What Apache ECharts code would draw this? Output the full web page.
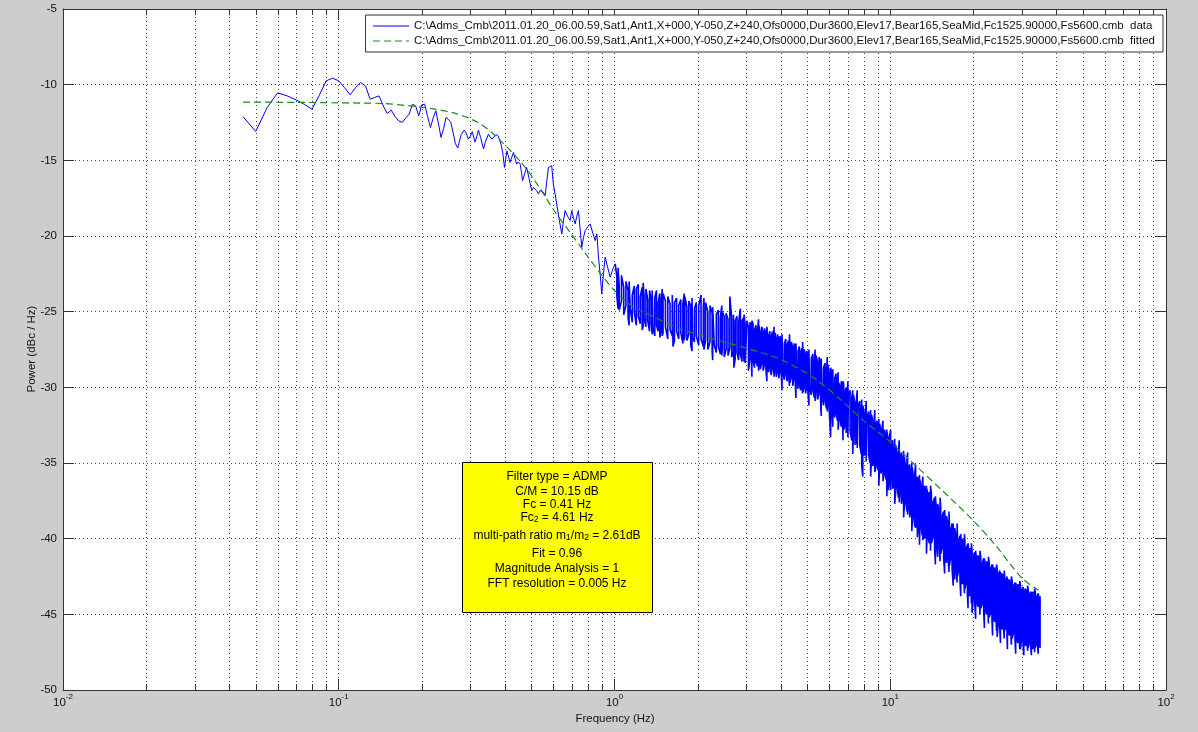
<!DOCTYPE html>
<html>
<head>
<meta charset="utf-8">
<script src="https://cdn.jsdelivr.net/npm/echarts@6/dist/echarts.min.js"></script>
<style>
html,body{margin:0;padding:0;background:#cdcdcd;}
#chart{width:1198px;height:732px;}
</style>
</head>
<body>
<div id="chart"></div>
<script>
// ---------------- data ----------------
const seriesNames = [
  'C:\\Adms_Cmb\\2011.01.20_06.00.59,Sat1,Ant1,X+000,Y-050,Z+240,Ofs0000,Dur3600,Elev17,Bear165,SeaMid,Fc1525.90000,Fs5600.cmb  data',
  'C:\\Adms_Cmb\\2011.01.20_06.00.59,Sat1,Ant1,X+000,Y-050,Z+240,Ofs0000,Dur3600,Elev17,Bear165,SeaMid,Fc1525.90000,Fs5600.cmb  fitted'
];
const xLabel = 'Frequency (Hz)';
const yLabel = 'Power (dBc / Hz)';
const xDecades = [0.01, 0.1, 1, 10, 100];
const minorMultipliers = [2, 3, 4, 5, 6, 7, 8, 9];
const yTicks = [-50, -45, -40, -35, -30, -25, -20, -15, -10, -5];
const infoLines = [
  'Filter type = ADMP',
  'C/M = 10.15 dB',
  'Fc = 0.41 Hz',
  'Fc{sub|2} = 4.61 Hz',
  'multi-path ratio m{sub|1}/m{sub|2} = 2.61dB',
  'Fit = 0.96',
  'Magnitude Analysis = 1',
  'FFT resolution = 0.005 Hz'
];

// measured spectrum, low-frequency part [frequency Hz, power dBc/Hz]
const measuredLow = [
[0.045,-12.12],[0.05,-13.09],[0.055,-11.51],[0.06,-10.54],[0.065,-10.74],[0.07,-11.0],[0.075,-11.3],[0.08,-11.62],
[0.085,-10.7],[0.09,-9.75],[0.095,-9.57],[0.1,-9.75],[0.105,-10.2],[0.11,-10.67],[0.115,-10.2],[0.12,-9.86],
[0.125,-10.08],[0.13,-10.96],[0.135,-10.85],[0.14,-10.74],[0.145,-11.4],[0.15,-11.91],[0.155,-11.68],[0.16,-12.1],
[0.165,-12.4],[0.17,-12.5],[0.175,-12.2],[0.18,-11.95],[0.185,-11.29],[0.19,-11.4],[0.195,-12.06],[0.2,-11.33],
[0.205,-11.29],[0.21,-12.1],[0.215,-12.83],[0.22,-12.2],[0.225,-11.73],[0.23,-12.6],[0.235,-13.49],[0.24,-12.9],
[0.245,-12.17],[0.25,-12.3],[0.255,-12.5],[0.26,-13.2],[0.265,-13.9],[0.27,-14.19],
[0.278,-13.3],[0.285,-13.0],[0.29,-13.2],[0.295,-13.6],[0.3,-13.4],[0.305,-13.1],[0.312,-13.8],[0.317,-13.4],
[0.321,-13.0],[0.327,-13.5],[0.335,-14.25],[0.34,-13.8],[0.349,-13.27],[0.359,-13.6],[0.365,-13.5],[0.372,-13.3],
[0.379,-13.4],[0.384,-13.7],[0.389,-14.04],[0.394,-14.6],[0.399,-15.47],[0.404,-14.8],[0.407,-14.37],[0.412,-14.7],
[0.418,-15.14],[0.424,-14.8],[0.43,-14.48],[0.436,-14.9],[0.442,-15.25],[0.448,-15.1],[0.455,-15.25],[0.46,-15.8],
[0.464,-16.35],[0.472,-15.9],[0.48,-15.47],[0.49,-16.2],[0.501,-17.0],[0.508,-16.8],[0.515,-16.68],[0.522,-17.0],
[0.53,-17.22],[0.537,-17.0],[0.545,-16.9],[0.552,-17.1],[0.56,-17.34],[0.568,-16.4],[0.576,-15.47],[0.584,-15.6],
[0.592,-15.36],[0.6,-16.56],[0.61,-17.3],[0.617,-17.88],[0.63,-18.9],[0.644,-19.86],[0.653,-19.0],[0.662,-18.32],
[0.676,-18.7],[0.69,-18.98],[0.7,-18.32],[0.71,-18.8],[0.72,-19.2],[0.73,-18.7],[0.74,-18.32],[0.75,-19.5],
[0.761,-20.75],[0.772,-20.1],[0.783,-19.64],[0.8,-19.4],[0.816,-19.2],[0.834,-19.8],[0.851,-20.3],[0.863,-19.86],
[0.875,-21.4],[0.888,-22.6],[0.899,-23.82],[0.912,-22.5],[0.925,-21.4],[0.945,-22.1],[0.965,-22.72],[0.985,-22.2],
[1.006,-21.84]
];

// measured spectrum, dense part: [frequency Hz, local high, local low] (dBc/Hz)
const measuredBand = [
[1.02,-22.7,-24.0],[1.04,-23.3,-24.9],[1.06,-22.6,-24.3],[1.08,-23.4,-25.2],[1.10,-23.0,-24.6],[1.12,-23.6,-25.4],
[1.14,-23.1,-24.8],[1.16,-23.9,-25.7],[1.18,-23.3,-25.0],[1.20,-23.5,-25.9],[1.22,-23.2,-25.3],[1.24,-24.0,-25.8],
[1.26,-23.4,-26.2],[1.28,-23.9,-25.4],[1.30,-23.5,-26.0],[1.32,-24.2,-25.6],[1.34,-23.6,-26.3],[1.36,-24.3,-25.8],
[1.38,-23.7,-26.1],[1.40,-24.1,-26.6],[1.42,-23.6,-25.9],[1.44,-24.4,-26.3],[1.46,-23.8,-26.7],[1.48,-24.2,-26.0],
[1.50,-23.8,-26.4],[1.53,-24.3,-26.0],[1.56,-24.0,-26.8],[1.59,-24.5,-26.2],[1.62,-23.9,-26.6],[1.65,-24.4,-26.9],
[1.68,-24.1,-26.3],[1.71,-24.6,-26.8],[1.74,-24.2,-26.4],[1.77,-24.5,-27.1],[1.80,-24.0,-26.6],[1.83,-24.7,-26.9],
[1.86,-24.3,-26.5],[1.89,-24.6,-27.2],[1.92,-24.2,-26.7],[1.95,-24.8,-27.0],[1.98,-24.4,-26.6],
[2.02,-24.6,-27.2],[2.06,-23.9,-26.8],[2.10,-24.7,-27.3],[2.14,-24.4,-26.9],[2.18,-25.0,-27.5],[2.22,-24.6,-27.0],
[2.26,-25.1,-27.6],[2.30,-24.8,-27.2],[2.34,-25.2,-27.7],[2.38,-24.9,-27.3],[2.42,-25.4,-27.8],[2.46,-25.0,-27.4],
[2.50,-25.3,-28.0],[2.54,-25.1,-27.5],[2.58,-25.5,-27.9],[2.62,-24.0,-27.4],[2.66,-25.4,-28.0],[2.70,-25.2,-27.6],
[2.74,-25.6,-28.1],[2.78,-25.3,-27.7],[2.82,-25.7,-28.2],[2.86,-24.8,-27.8],[2.90,-25.6,-28.3],[2.94,-25.4,-27.9],
[2.98,-25.9,-28.4],
[3.02,-25.6,-28.3],[3.06,-26.0,-28.9],[3.10,-25.7,-28.1],[3.14,-26.1,-28.5],[3.18,-25.8,-28.2],[3.22,-26.2,-28.7],
[3.26,-25.9,-28.3],[3.30,-26.3,-28.6],[3.34,-25.9,-28.2],[3.38,-26.4,-28.8],[3.42,-26.0,-28.4],[3.46,-26.4,-28.9],
[3.50,-26.1,-28.5],[3.54,-26.5,-28.8],[3.58,-26.2,-28.4],[3.62,-26.6,-29.0],[3.66,-26.3,-28.6],[3.70,-26.7,-29.2],
[3.74,-26.3,-28.7],[3.78,-26.8,-29.1],[3.82,-26.4,-28.8],[3.86,-26.9,-29.3],[3.90,-26.5,-28.9],[3.94,-26.9,-29.4],
[3.98,-26.6,-29.0],
[4.03,-26.9,-29.3],[4.08,-26.6,-29.0],[4.13,-27.1,-29.5],[4.18,-26.8,-29.1],[4.23,-27.2,-29.6],[4.28,-26.9,-29.2],
[4.33,-27.3,-29.7],[4.38,-27.0,-29.3],[4.43,-27.4,-29.9],[4.48,-27.1,-29.4],[4.53,-27.5,-30.0],[4.58,-27.2,-29.5],
[4.63,-27.6,-30.1],[4.68,-27.3,-29.7],[4.73,-27.7,-30.2],[4.78,-27.4,-29.8],[4.83,-27.8,-30.3],[4.88,-27.5,-29.9],
[4.93,-27.9,-30.4],[4.98,-27.6,-30.0],
[5.03,-27.9,-30.3],[5.10,-27.6,-30.0],[5.17,-28.1,-30.5],[5.24,-27.8,-30.2],[5.31,-28.2,-30.7],[5.38,-27.9,-30.3],
[5.45,-28.3,-30.8],[5.52,-28.0,-30.4],[5.59,-28.5,-31.0],[5.66,-28.2,-30.6],[5.73,-28.7,-31.2],[5.80,-28.4,-30.8],
[5.87,-28.9,-31.4],[5.94,-28.5,-31.0],[6.01,-29.1,-31.6],[6.08,-28.7,-33.3],[6.15,-29.2,-31.7],[6.22,-28.9,-31.4],
[6.29,-29.4,-32.0],[6.36,-29.1,-31.6],[6.43,-29.6,-32.2],[6.50,-29.7,-32.4],[6.57,-29.9,-32.0],[6.64,-29.6,-32.6],
[6.71,-30.1,-32.3],[6.78,-29.8,-32.8],[6.85,-30.3,-32.5],[6.92,-30.0,-33.0],[6.99,-30.4,-32.6],
[7.05,-30.5,-33.2],[7.15,-30.2,-32.9],[7.25,-30.7,-33.5],[7.35,-30.5,-33.2],[7.45,-31.0,-33.8],[7.55,-30.7,-33.5],
[7.65,-31.2,-34.1],[7.75,-30.9,-33.8],[7.85,-31.5,-34.4],[7.95,-31.2,-35.9],[8.05,-31.7,-34.5],[8.15,-31.4,-34.2],
[8.25,-31.9,-34.8],[8.35,-31.6,-34.5],[8.45,-32.1,-35.0],[8.55,-31.8,-34.7],[8.65,-32.3,-35.2],[8.75,-32.0,-34.9],
[8.85,-32.5,-35.4],[8.95,-32.2,-35.1],[9.05,-32.7,-35.5],[9.15,-32.4,-35.2],[9.25,-32.9,-35.7],[9.35,-32.6,-35.4],
[9.45,-33.1,-35.9],[9.55,-32.8,-35.6],[9.65,-33.3,-36.1],[9.75,-33.0,-35.8],[9.85,-33.5,-36.8],[9.95,-33.2,-36.0],
[10.07,-33.8,-36.0],[10.20,-33.5,-36.7],[10.33,-34.1,-36.3],[10.46,-33.8,-37.0],[10.59,-34.4,-36.6],[10.72,-34.0,-37.3],
[10.85,-34.7,-36.9],[10.98,-34.3,-37.7],[11.11,-34.9,-37.2],[11.24,-34.6,-37.9],[11.37,-35.2,-37.5],[11.50,-34.8,-38.2],
[11.63,-35.4,-37.8],[11.76,-35.1,-38.6],[11.89,-35.7,-38.1],[12.02,-35.3,-38.9],[12.15,-36.0,-38.4],[12.28,-35.6,-39.2],
[12.41,-36.2,-38.7],[12.54,-35.9,-39.9],[12.67,-36.4,-39.0],[12.80,-36.1,-39.6],[12.93,-36.7,-39.1],[13.06,-36.3,-39.8],
[13.19,-36.9,-39.3],[13.32,-36.5,-40.0],[13.45,-37.1,-39.5],[13.58,-36.7,-40.2],[13.71,-37.3,-39.7],[13.84,-36.9,-40.3],
[13.97,-37.4,-39.8],
[14.10,-37.0,-40.3],[14.29,-37.6,-39.9],[14.48,-37.3,-40.6],[14.67,-37.9,-40.1],[14.86,-37.7,-41.2],[15.05,-38.2,-40.4],
[15.24,-37.9,-41.0],[15.43,-38.5,-40.6],[15.62,-38.2,-41.3],[15.81,-38.8,-40.9],[16.00,-38.5,-41.6],[16.19,-39.1,-41.1],
[16.38,-38.8,-41.8],[16.57,-39.4,-41.3],[16.76,-39.0,-42.0],[16.95,-39.6,-41.6],[17.14,-39.3,-42.7],[17.33,-39.9,-41.9],
[17.52,-39.6,-42.5],[17.71,-40.1,-42.1],[17.90,-39.8,-42.8],[18.09,-40.3,-42.4],[18.28,-40.0,-43.0],[18.47,-40.5,-42.6],
[18.66,-40.2,-43.3],[18.85,-40.7,-42.9],[19.04,-40.4,-43.6],[19.23,-40.8,-43.1],[19.42,-40.6,-43.8],[19.61,-41.0,-43.4],
[19.80,-40.8,-44.9],
[20.00,-41.2,-43.9],[20.26,-40.9,-44.3],[20.52,-41.3,-44.0],[20.78,-41.1,-44.5],[21.04,-41.5,-44.2],[21.30,-41.2,-44.6],
[21.56,-41.6,-44.3],[21.82,-41.3,-44.8],[22.08,-41.7,-44.5],[22.34,-41.5,-45.0],[22.60,-41.8,-44.7],[22.86,-41.6,-45.2],
[23.12,-42.0,-44.9],[23.38,-41.7,-45.3],[23.64,-42.1,-45.0],[23.90,-41.9,-45.5],[24.16,-42.2,-45.2],[24.42,-42.0,-46.5],
[24.68,-42.4,-45.4],[24.94,-42.1,-45.8],[25.20,-42.5,-45.5],[25.46,-42.3,-46.0],[25.72,-42.6,-45.7],[25.98,-42.4,-46.1],
[26.24,-42.7,-45.8],[26.50,-42.5,-46.3],[26.76,-42.9,-46.0],
[27.02,-42.7,-46.4],[27.35,-43.0,-46.1],[27.68,-42.8,-46.6],[28.01,-43.1,-46.2],[28.34,-42.9,-46.7],[28.67,-43.2,-46.4],
[29.00,-43.0,-46.9],[29.33,-43.3,-46.5],[29.66,-43.1,-47.3],[29.99,-43.4,-46.6],[30.32,-43.2,-47.0],[30.65,-43.5,-46.7],
[30.98,-43.3,-47.1],[31.31,-43.6,-46.8],[31.64,-43.4,-47.2],[31.97,-43.7,-46.8],[32.30,-43.5,-47.1],[32.63,-43.7,-46.9],
[32.96,-43.5,-47.3],[33.29,-43.8,-47.0],[33.62,-43.6,-47.2],[33.95,-43.9,-46.9],[34.28,-43.7,-47.3],[34.61,-43.9,-47.0],
[34.94,-43.8,-47.2]
];

// isolated spikes at the edges of the dense part: [frequency Hz, spike high, spike low]
const measuredSpikes = [
[1.03,-22.1,-24.8],[1.13,-23.0,-25.9],[1.27,-23.1,-26.0],[1.37,-23.6,-26.5],[1.49,-23.5,-26.6],[1.63,-23.9,-27.3],
[1.79,-23.8,-26.9],[1.91,-24.1,-27.6],[2.11,-24.1,-27.5],[2.27,-24.7,-28.2],[2.45,-24.6,-27.9],[2.71,-25.1,-28.7],
[2.95,-25.2,-28.3],[3.15,-25.6,-29.3],[3.33,-25.5,-28.9],[3.57,-26.0,-29.6],[3.79,-26.0,-29.3],[4.05,-26.5,-30.2],
[4.31,-26.5,-29.9],[4.55,-27.1,-30.7],[4.81,-27.0,-30.4],[5.07,-27.5,-31.2],[5.34,-27.5,-30.9],[5.62,-28.1,-31.9],
[5.91,-28.0,-31.6],[6.19,-28.8,-32.6],[6.47,-29.0,-32.8],[6.74,-29.6,-33.5],[7.02,-29.6,-33.3],[7.31,-30.2,-34.4],
[7.59,-30.2,-34.0],[7.88,-30.8,-35.2],[8.18,-30.9,-34.9],[8.49,-31.5,-35.9],[8.79,-31.5,-35.6],[9.09,-32.1,-36.5],
[9.41,-32.2,-36.2],[9.72,-32.8,-37.2],[10.03,-32.8,-36.8],[10.38,-33.4,-37.7],[10.78,-33.5,-37.6],[11.18,-34.2,-38.6],
[11.56,-34.3,-38.4],[11.97,-35.0,-39.5],[12.36,-35.1,-39.3],[12.76,-35.8,-40.4],[13.13,-35.9,-40.1],[13.53,-36.5,-41.0],
[14.00,-36.5,-40.8],[14.58,-37.2,-41.7],[15.16,-37.3,-41.5],[15.75,-38.1,-42.3],[16.33,-38.2,-42.2],[16.92,-39.0,-43.1],
[17.48,-39.0,-42.9],[18.02,-39.7,-43.8],[18.58,-39.7,-43.6],[19.15,-40.3,-44.6],[19.70,-40.3,-44.3],[20.40,-40.8,-45.3],
[21.15,-40.8,-45.0],[21.95,-41.3,-45.9],[22.70,-41.2,-45.6],[23.50,-41.7,-46.4],[24.30,-41.7,-46.1],[25.10,-42.2,-46.9],
[25.90,-42.1,-46.6],[26.60,-42.6,-47.3],[27.50,-42.5,-47.0],[28.50,-42.9,-47.6],[29.50,-42.8,-47.3],[30.50,-43.3,-47.7],
[31.50,-43.1,-47.4],[32.50,-43.5,-47.7],[33.40,-43.3,-47.5],[34.40,-43.6,-47.6]
];

// fitted model [frequency Hz, power dBc/Hz]
const fitted = [
[0.045,-11.15],[0.07,-11.17],[0.1,-11.2],[0.147,-11.25],[0.18,-11.4],[0.217,-11.58],[0.265,-11.9],[0.32,-12.5],
[0.37,-13.38],[0.46,-15.16],[0.53,-16.7],[0.611,-18.46],[0.7,-19.9],[0.785,-21.16],[0.9,-22.6],[1.0,-23.6],
[1.15,-24.6],[1.3,-25.1],[1.71,-26.1],[2.38,-26.9],[2.99,-27.4],[3.94,-28.1],[4.8,-28.9],[5.5,-29.6],
[6.6,-30.8],[8,-32.2],[9.85,-33.5],[12,-34.95],[15.4,-36.8],[20,-38.8],[24,-40.4],[30,-42.6],[34.5,-43.4]
];

// ---------------- build series data ----------------
const bandRows = measuredBand.concat(measuredSpikes).sort((a, b) => a[0] - b[0]);
const measuredDense = [measuredLow[measuredLow.length - 1]];
bandRows.forEach((r, i) => {
  if (i % 2 === 0) { measuredDense.push([r[0], r[1]]); measuredDense.push([r[0], r[2]]); }
  else { measuredDense.push([r[0], r[2]]); measuredDense.push([r[0], r[1]]); }
});

// ---------------- layout / style ----------------
const FONT = '"Liberation Sans", Arial, sans-serif';
const yMin = yTicks[0], yMax = yTicks[yTicks.length - 1];
const minorFreqs = [];
xDecades.slice(0, -1).forEach(d => minorMultipliers.forEach(m => minorFreqs.push([d * m, yMin])));

const axisCol = '#333';
const gridStyle = { color: '#444', width: 1, type: [1, 3] };

function xAxisBase(pos, show) {
  return {
    type: 'log', logBase: 10, position: pos,
    min: xDecades[0], max: xDecades[xDecades.length - 1], interval: 1,
    axisLine: { show: true, onZero: false, lineStyle: { color: axisCol, width: 1 } },
    axisTick: { show: true, inside: true, length: 11, lineStyle: { color: axisCol } },
    splitLine: { show: show, lineStyle: gridStyle },
    axisLabel: show ? {
      show: true, margin: 3,
      formatter: v => '{b|10}{s|' + Math.round(Math.log10(v)) + '}',
      rich: {
        b: { fontSize: 11.5, fontFamily: FONT, color: '#111', lineHeight: 16, verticalAlign: 'bottom' },
        s: { fontSize: 8, fontFamily: FONT, color: '#111', lineHeight: 16, verticalAlign: 'top' }
      }
    } : { show: false }
  };
}
function yAxisBase(pos, show) {
  return {
    type: 'value', position: pos, min: yMin, max: yMax, interval: 5,
    axisLine: { show: true, onZero: false, lineStyle: { color: axisCol, width: 1 } },
    axisTick: { show: true, inside: true, length: 11, lineStyle: { color: axisCol } },
    splitLine: { show: show, lineStyle: gridStyle },
    axisLabel: show ? { show: true, margin: 6, fontSize: 11.5, fontFamily: FONT, color: '#111' } : { show: false }
  };
}

const infoY = [477, 492, 505, 518, 536, 554, 569, 584];
const infoTexts = infoLines.map((t, i) => ({
  type: 'text', silent: true, z: 11,
  style: {
    text: t, x: 557, y: infoY[i], align: 'center', verticalAlign: 'middle',
    fill: '#000', font: '12px ' + FONT,
    rich: { sub: { fontSize: 8.5, fontFamily: FONT, fill: '#000', verticalAlign: 'bottom', lineHeight: 12, padding: [8, 0, 0, 0] } }
  }
}));

const chart = echarts.init(document.getElementById('chart'), null, { renderer: 'canvas' });
chart.setOption({
  animation: false,
  backgroundColor: '#cdcdcd',
  grid: { left: 63, top: 9, width: 1103, height: 681, show: true, backgroundColor: '#ffffff', borderWidth: 0 },
  xAxis: [xAxisBase('bottom', true), xAxisBase('top', false)],
  yAxis: [yAxisBase('left', true), yAxisBase('right', false)],
  legend: {
    data: seriesNames,
    orient: 'vertical', right: 35, top: 15,
    backgroundColor: '#ffffff', borderColor: '#333', borderWidth: 1, borderRadius: 0,
    padding: [5, 8, 5, 7], itemGap: 3, itemWidth: 36, itemHeight: 12,
    itemStyle: { opacity: 0 },
    lineStyle: { width: 1 },
    textStyle: { fontSize: 11.5, fontFamily: FONT, color: '#111' }
  },
  series: [
    {
      type: 'custom', name: 'minor', xAxisIndex: 0, yAxisIndex: 0, silent: true, z: 1,
      data: minorFreqs,
      renderItem: (params, api) => {
        const f = api.value(0);
        const pb = api.coord([f, yMin]);
        const pt = api.coord([f, yMax]);
        const x = Math.round(pb[0]) + 0.5;
        return {
          type: 'group', children: [
            { type: 'line', shape: { x1: x, y1: pt[1], x2: x, y2: pb[1] }, style: { stroke: '#444', lineWidth: 1, lineDash: [1, 3] } },
            { type: 'line', shape: { x1: x, y1: pb[1], x2: x, y2: pb[1] - 6 }, style: { stroke: axisCol, lineWidth: 1 } },
            { type: 'line', shape: { x1: x, y1: pt[1], x2: x, y2: pt[1] + 6 }, style: { stroke: axisCol, lineWidth: 1 } }
          ]
        };
      }
    },
    {
      type: 'line', name: seriesNames[0], data: measuredLow, symbol: 'none', z: 3,
      lineStyle: { color: '#0000ff', width: 1 }, itemStyle: { color: '#0000ff' }
    },
    {
      type: 'line', name: seriesNames[0], data: measuredDense, symbol: 'none', z: 3,
      lineStyle: { color: '#0000ff', width: 1.6 }, itemStyle: { color: '#0000ff' }
    },
    {
      type: 'line', name: seriesNames[1], data: fitted, symbol: 'none', z: 4, smooth: 0.3,
      lineStyle: { color: '#1a8a1a', width: 1.2, type: [7, 4] }, itemStyle: { color: '#1a8a1a' }
    }
  ],
  graphic: [
    { type: 'rect', silent: true, z: 10, shape: { x: 462.5, y: 462.5, width: 190, height: 150 }, style: { fill: '#ffff00', stroke: '#000', lineWidth: 1 } }
  ].concat(infoTexts).concat([
    { type: 'text', silent: true, style: { text: xLabel, x: 615, y: 719, align: 'center', verticalAlign: 'middle', fill: '#111', font: '11.5px ' + FONT } },
    { type: 'text', silent: true, x: 32, y: 349, rotation: Math.PI / 2, style: { text: yLabel, x: 0, y: 0, align: 'center', verticalAlign: 'middle', fill: '#111', font: '11.5px ' + FONT } }
  ])
});
</script>
</body>
</html>
